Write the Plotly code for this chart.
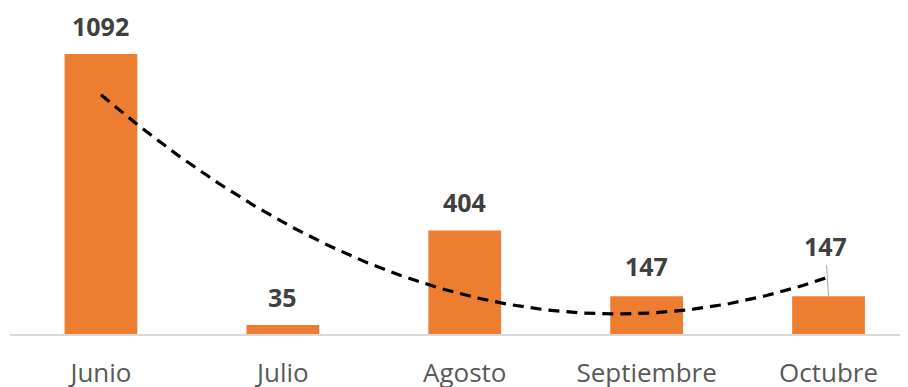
import numpy as np
import plotly.graph_objects as go

months = ["Junio", "Julio", "Agosto", "Septiembre", "Octubre"]
values = [1092, 35, 404, 147, 147]
label_shift = [28, 28, 28, 30, 50]

idx = np.arange(len(values))
coef = np.polyfit(idx, values, 2)
xs = np.linspace(0, len(values) - 1, 200)
ys = np.polyval(coef, xs)

fig = go.Figure()
fig.add_trace(go.Bar(x=idx, y=values, width=0.4, marker=dict(color="#ED7D31", line=dict(width=0)),
                     hoverinfo="skip"))
fig.add_trace(go.Scatter(x=xs, y=ys, mode="lines",
                         line=dict(color="black", width=3.2, dash="11px,7px"), hoverinfo="skip"))

for i, (v, s) in enumerate(zip(values, label_shift)):
    if s > 40:
        fig.add_annotation(x=i, y=v, text=f"<b>{v}</b>", showarrow=True, arrowhead=0,
                           arrowcolor="#A6A6A6", arrowwidth=1, ax=-3, ay=-s, standoff=0,
                           font=dict(family="Open Sans", size=25, color="#404040"))
    else:
        fig.add_annotation(x=i, y=v, text=f"<b>{v}</b>", showarrow=False, yshift=s,
                           font=dict(family="Open Sans", size=25, color="#404040"))

fig.update_layout(
    width=900, height=379,
    margin=dict(l=2, r=0, t=0, b=53),
    plot_bgcolor="white", paper_bgcolor="white",
    showlegend=False,
    xaxis=dict(range=[-0.5, 4.437], tickvals=list(idx), ticktext=months, showgrid=False,
               zeroline=False, showline=True, linecolor="#D9D9D9", linewidth=1.5,
               ticks="", ticklabelstandoff=15, automargin=False,
               tickfont=dict(family="Open Sans", size=26, color="#595959")),
    yaxis=dict(range=[0, 1271.4], visible=False, showgrid=False, zeroline=False),
)
fig.write_html("out.html")
